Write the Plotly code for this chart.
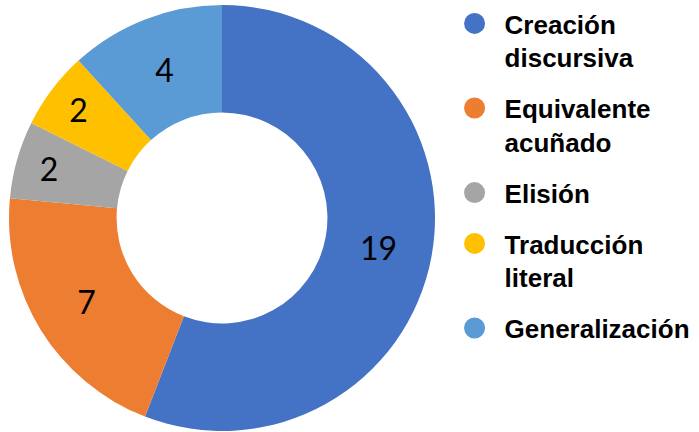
import plotly.graph_objects as go

categories = ["Creación discursiva", "Equivalente acuñado", "Elisión", "Traducción literal", "Generalización"]
legend_labels = ["Creación<br>discursiva", "Equivalente<br>acuñado", "Elisión", "Traducción<br>literal", "Generalización"]
values = [19, 7, 2, 2, 4]
colors = ["#4472C4", "#ED7D31", "#A5A5A5", "#FFC000", "#5B9BD5"]

fig = go.Figure()
fig.add_trace(go.Pie(
    labels=categories,
    values=values,
    hole=0.495,
    sort=False,
    direction="clockwise",
    rotation=0,
    textinfo="value",
    textposition="inside",
    insidetextorientation="horizontal",
    textfont=dict(family="Lato", size=32, color="black"),
    marker=dict(colors=colors, line=dict(color="white", width=0)),
    domain=dict(x=[9 / 699, 435 / 699], y=[1 - 431 / 432, 1 - 5 / 432]),
    showlegend=False,
    hoverinfo="label+value",
))

for lab, col in zip(legend_labels, colors):
    fig.add_trace(go.Scatter(
        x=[None], y=[None], mode="markers", name=lab, legendgroup=lab,
        marker=dict(color=col, size=16, line=dict(color=col, width=5)),
        showlegend=True,
    ))

fig.update_layout(
    width=699, height=432,
    margin=dict(l=0, r=0, t=0, b=0),
    paper_bgcolor="white", plot_bgcolor="white",
    xaxis=dict(visible=False), yaxis=dict(visible=False),
    legend=dict(
        x=0.636, y=1.0, xanchor="left", yanchor="top",
        font=dict(family="Liberation Sans", size=26, color="black", weight="bold"),
        valign="top", tracegroupgap=14, itemwidth=50,
        bgcolor="rgba(0,0,0,0)",
    ),
)

fig.write_html("out.html")
